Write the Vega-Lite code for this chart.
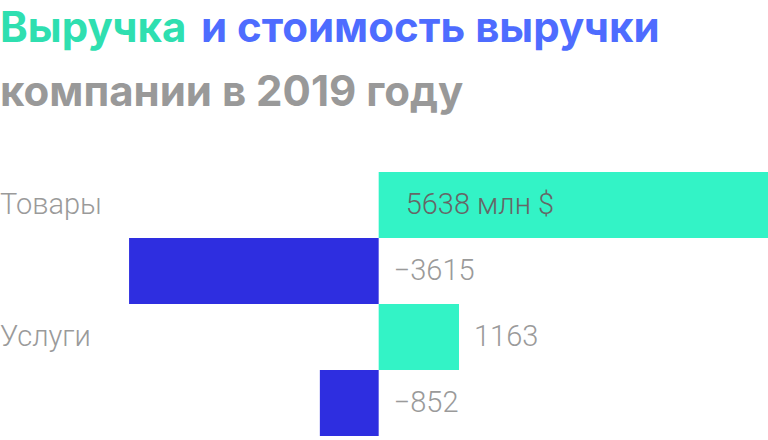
{
  "$schema": "https://vega.github.io/schema/vega-lite/v6.json",
  "description": "Revenue and cost of revenue of the company in 2019, goods and services.",
  "padding": 0,
  "autosize": {"type": "pad"},
  "background": "white",
  "bounds": "flush",
  "spacing": 76,
  "vconcat": [
    {
      "hconcat": [
        {
          "width": 201,
          "height": 13,
          "data": {"values": []},
          "mark": "text",
          "title": {"text": "Выручка", "color": "#2fdfb0", "offset": -4}
        },
        {
          "width": 567,
          "height": 13,
          "data": {"values": []},
          "mark": "text",
          "title": {"text": "и стоимость выручки", "color": "#4e6cff", "offset": -4}
        }
      ],
      "spacing": 0,
      "bounds": "flush"
    },
    {
      "width": 768,
      "height": 0,
      "data": {"values": []},
      "mark": "text",
      "title": {"text": "компании в 2019 году", "color": "#999999", "offset": -23}
    },
    {
      "width": 768,
      "height": 264,
      "data": {
        "values": [
          {"category": "Товары", "type": "Выручка", "value": 5638, "label": "5638 млн $"},
          {"category": "Товары", "type": "Стоимость", "value": -3615, "label": "−3615"},
          {"category": "Услуги", "type": "Выручка", "value": 1163, "label": "1163"},
          {"category": "Услуги", "type": "Стоимость", "value": -852, "label": "−852"}
        ]
      },
      "encoding": {
        "y": {
          "field": "category",
          "type": "nominal",
          "sort": ["Товары", "Услуги"],
          "axis": null,
          "scale": {"paddingInner": 0, "paddingOuter": 0}
        },
        "yOffset": {
          "field": "type",
          "type": "nominal",
          "sort": ["Выручка", "Стоимость"],
          "scale": {"paddingInner": 0, "paddingOuter": 0}
        }
      },
      "layer": [
        {
          "mark": {"type": "bar"},
          "encoding": {
            "x": {
              "field": "value",
              "type": "quantitative",
              "scale": {"domain": [-5484, 5638], "nice": false},
              "axis": null
            },
            "color": {
              "field": "type",
              "type": "nominal",
              "scale": {"domain": ["Выручка", "Стоимость"], "range": ["#33f3c6", "#2e2ee0"]},
              "legend": null
            }
          }
        },
        {
          "transform": [{"filter": "datum.type == 'Выручка'"}],
          "mark": {"type": "text", "align": "left", "baseline": "middle", "fontSize": 29, "fontWeight": 300, "color": "#9a9a9a"},
          "encoding": {"x": {"datum": -5484}, "text": {"field": "category"}}
        },
        {
          "transform": [{"filter": "datum.value < 0"}],
          "mark": {"type": "text", "align": "left", "baseline": "middle", "dx": 15, "fontSize": 29, "fontWeight": 300, "color": "#9a9a9a"},
          "encoding": {"x": {"datum": 0}, "text": {"field": "label"}}
        },
        {
          "transform": [{"filter": "datum.value > 0 && datum.value < 3000"}],
          "mark": {"type": "text", "align": "left", "baseline": "middle", "dx": 15, "fontSize": 29, "fontWeight": 300, "color": "#9a9a9a"},
          "encoding": {"x": {"field": "value", "type": "quantitative"}, "text": {"field": "label"}}
        },
        {
          "transform": [{"filter": "datum.value >= 3000"}],
          "mark": {"type": "text", "align": "left", "baseline": "middle", "dx": 27, "fontSize": 29, "fontWeight": 300, "color": "#666666"},
          "encoding": {"x": {"datum": 0}, "text": {"field": "label"}}
        }
      ]
    }
  ],
  "config": {
    "view": {"stroke": null},
    "font": "Roboto",
    "title": {
      "font": "Inter",
      "fontSize": 42,
      "fontWeight": "bold",
      "anchor": "start",
      "frame": "group",
      "orient": "bottom",
      "baseline": "top",
      "offset": 0
    }
  }
}
